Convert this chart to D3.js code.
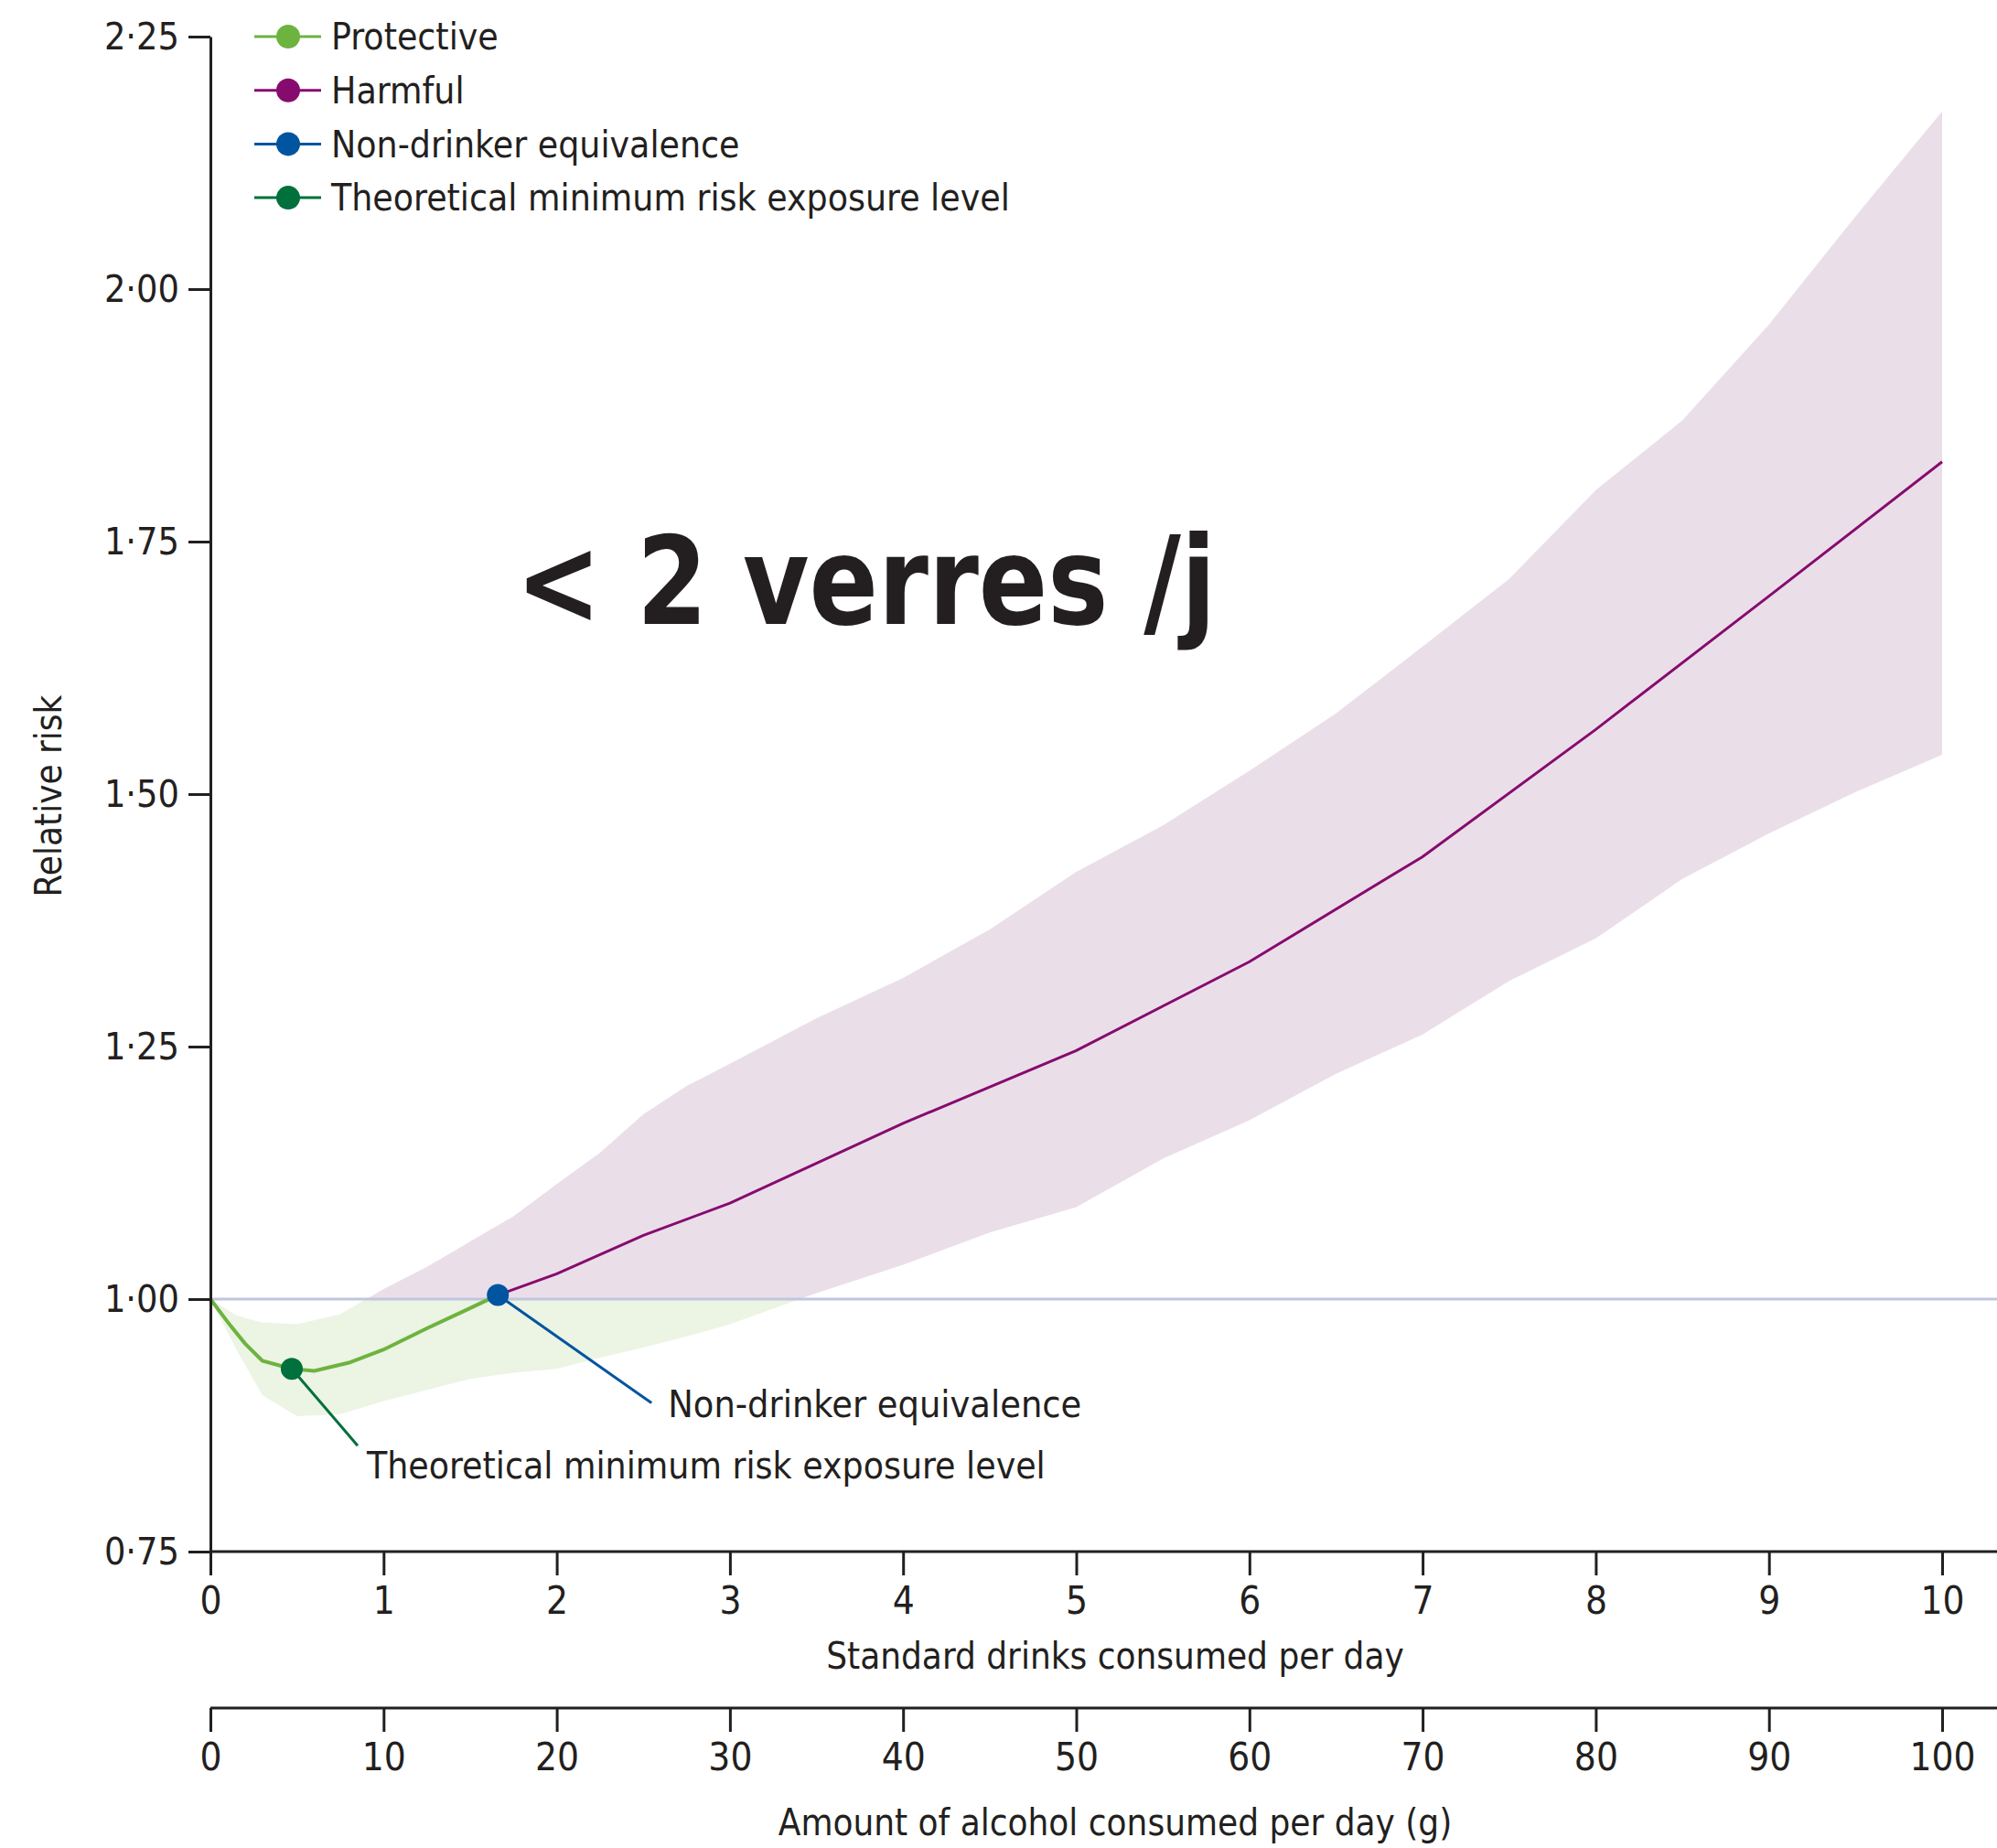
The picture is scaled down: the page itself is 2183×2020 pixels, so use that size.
<!DOCTYPE html>
<html lang="en">
<head>
    <meta charset="UTF-8">
    <title>Relative risk by alcohol consumption</title>
    <script src="https://d3js.org/d3.v7.min.js"></script>
    <style>
        body{
            margin: 0;
            background-color: #fff;
        }
        text{
            font-family: "Liberation Sans Narrow", "DejaVu Sans Condensed", "Roboto", sans-serif;
            fill: #231f20;
        }
    </style>
</head>
<body>
<script>
    // Data (standard drinks per day -> relative risk)
    const protectiveX = [0, 0.11, 0.2, 0.3, 0.47, 0.6, 0.8, 1.0, 1.25, 1.5, 1.66];
    const protectiveY = [1.0, 0.975, 0.956, 0.939, 0.931, 0.929, 0.937, 0.95, 0.971, 0.991, 1.004];

    const harmfulX = [1.66, 2, 2.5, 3, 4, 5, 6, 7, 8, 9, 10];
    const harmfulY = [1.004, 1.025, 1.063, 1.095, 1.174, 1.246, 1.334, 1.438, 1.564, 1.696, 1.829];

    const bandX = [0, 0.15, 0.25, 0.3, 0.5, 0.75, 1.0, 1.25, 1.5, 1.75, 2.0, 2.25, 2.5, 2.75, 3.0, 3.5, 4.0, 4.5, 5.0, 5.5, 6.0, 6.5, 7.0, 7.5, 8.0, 8.5, 9.0, 9.5, 10];
    const bandUpper = [1.0, 0.984, 0.979, 0.977, 0.975, 0.985, 1.01, 1.032, 1.057, 1.082, 1.114, 1.145, 1.183, 1.211, 1.233, 1.278, 1.318, 1.366, 1.423, 1.469, 1.523, 1.58, 1.646, 1.713, 1.801, 1.87, 1.965, 2.072, 2.176];
    const bandLower = [1.0, 0.95, 0.92, 0.905, 0.884, 0.886, 0.899, 0.91, 0.921, 0.927, 0.931, 0.942, 0.952, 0.963, 0.975, 1.006, 1.034, 1.066, 1.091, 1.139, 1.177, 1.223, 1.262, 1.315, 1.357, 1.416, 1.461, 1.502, 1.539];

    const tmrel = { x: 0.47, y: 0.931 };
    const nde = { x: 1.66, y: 1.004 };

    const yTicks = [0.75, 1.0, 1.25, 1.5, 1.75, 2.0, 2.25];
    const drinkTicks = [0, 1, 2, 3, 4, 5, 6, 7, 8, 9, 10];
    const gramTicks = [0, 10, 20, 30, 40, 50, 60, 70, 80, 90, 100];

    const legendLabels = ["Protective", "Harmful", "Non-drinker equivalence", "Theoretical minimum risk exposure level"];
    const legendColors = ["#6db33f", "#870b6e", "#0054a0", "#00703c"];

    const width = 2183;
    const height = 2020;

    const svg = d3.select("body")
        .append("svg")
        .attr("width", width)
        .attr("height", height);

    const x = d3.scaleLinear().domain([0, 10]).range([230, 2123]);
    const xg = d3.scaleLinear().domain([0, 100]).range([230, 2123]);
    const y = d3.scaleLinear().domain([0.75, 2.25]).range([1696, 40]);

    // clip regions above / below RR = 1
    const defs = svg.append("defs");
    defs.append("clipPath").attr("id", "above")
        .append("rect").attr("x", 0).attr("y", 0).attr("width", width).attr("height", y(1));
    defs.append("clipPath").attr("id", "below")
        .append("rect").attr("x", 0).attr("y", y(1)).attr("width", width).attr("height", height - y(1));

    const band = bandX.map((d, i) => ({ x: d, lo: bandLower[i], hi: bandUpper[i] }));
    const area = d3.area()
        .x(d => x(d.x))
        .y0(d => y(d.lo))
        .y1(d => y(d.hi));

    svg.append("path")
        .datum(band)
        .attr("d", area)
        .attr("fill", "#eadfe9")
        .attr("clip-path", "url(#above)");

    svg.append("path")
        .datum(band)
        .attr("d", area)
        .attr("fill", "#ecf4e4")
        .attr("clip-path", "url(#below)");

    // reference line at 1.00
    svg.append("line")
        .attr("x1", x(0)).attr("x2", width)
        .attr("y1", y(1)).attr("y2", y(1))
        .attr("stroke", "#bfc6de")
        .attr("stroke-width", 3);

    const line = d3.line()
        .x(d => x(d[0]))
        .y(d => y(d[1]));

    svg.append("path")
        .datum(protectiveX.map((d, i) => [d, protectiveY[i]]))
        .attr("d", line)
        .attr("fill", "none")
        .attr("stroke", legendColors[0])
        .attr("stroke-width", 4);

    svg.append("path")
        .datum(harmfulX.map((d, i) => [d, harmfulY[i]]))
        .attr("d", line)
        .attr("fill", "none")
        .attr("stroke", legendColors[1])
        .attr("stroke-width", 3);

    // annotation leaders
    svg.append("line")
        .attr("x1", x(tmrel.x)).attr("y1", y(tmrel.y))
        .attr("x2", x(tmrel.x) + 72).attr("y2", y(tmrel.y) + 84)
        .attr("stroke", legendColors[3]).attr("stroke-width", 3);

    svg.append("line")
        .attr("x1", x(nde.x)).attr("y1", y(nde.y))
        .attr("x2", x(nde.x) + 168).attr("y2", y(nde.y) + 118)
        .attr("stroke", legendColors[2]).attr("stroke-width", 3);

    svg.append("circle")
        .attr("cx", x(tmrel.x)).attr("cy", y(tmrel.y)).attr("r", 12)
        .attr("fill", legendColors[3]);
    svg.append("circle")
        .attr("cx", x(nde.x)).attr("cy", y(nde.y)).attr("r", 12)
        .attr("fill", legendColors[2]);

    svg.append("text")
        .attr("x", x(tmrel.x) + 82).attr("y", y(tmrel.y) + 106)
        .attr("dy", "0.35em")
        .style("font-size", "40.5px")
        .text("Theoretical minimum risk exposure level");

    svg.append("text")
        .attr("x", x(nde.x) + 186).attr("y", y(nde.y) + 119)
        .attr("dy", "0.35em")
        .style("font-size", "41px")
        .text("Non-drinker equivalence");

    // Y axis
    const yAxis = svg.append("g")
        .attr("transform", `translate(${x(0)},0)`)
        .call(d3.axisLeft(y)
            .tickValues(yTicks)
            .tickSize(24)
            .tickSizeOuter(0)
            .tickPadding(10)
            .tickFormat(d => d3.format(".2f")(d).replace(".", "\u00b7")));
    yAxis.selectAll("path, line").attr("stroke", "#231f20").attr("stroke-width", 3);
    yAxis.selectAll("text").style("font-size", "41px").attr("fill", "#231f20");

    // X axis - standard drinks
    const xAxis = svg.append("g")
        .attr("transform", `translate(0,${y(0.75)})`)
        .call(d3.axisBottom(x)
            .tickValues(drinkTicks)
            .tickSize(26)
            .tickSizeOuter(0)
            .tickPadding(12));
    xAxis.select(".domain").attr("d", `M${x(0)},0H${width}`);
    xAxis.selectAll("path, line").attr("stroke", "#231f20").attr("stroke-width", 3);
    xAxis.selectAll("text").style("font-size", "42px").attr("fill", "#231f20");

    // X axis - grams
    const gAxis = svg.append("g")
        .attr("transform", "translate(0,1867)")
        .call(d3.axisBottom(xg)
            .tickValues(gramTicks)
            .tickSize(26)
            .tickSizeOuter(0)
            .tickPadding(12));
    gAxis.select(".domain").attr("d", `M${x(0)},0H${width}`);
    gAxis.selectAll("path, line").attr("stroke", "#231f20").attr("stroke-width", 3);
    gAxis.selectAll("text").style("font-size", "42px").attr("fill", "#231f20");

    // axis titles
    svg.append("text")
        .attr("x", 1219).attr("y", 1810)
        .attr("dy", "0.35em")
        .attr("text-anchor", "middle")
        .style("font-size", "40px")
        .text("Standard drinks consumed per day");

    svg.append("text")
        .attr("x", 1219).attr("y", 1992)
        .attr("dy", "0.35em")
        .attr("text-anchor", "middle")
        .style("font-size", "40px")
        .text("Amount of alcohol consumed per day (g)");

    svg.append("text")
        .attr("transform", "translate(53,870) rotate(-90)")
        .attr("dy", "0.35em")
        .attr("text-anchor", "middle")
        .style("font-size", "40px")
        .text("Relative risk");

    // legend
    const legend = svg.append("g").attr("transform", "translate(278,40)");
    legendLabels.forEach((label, i) => {
        const row = legend.append("g").attr("transform", `translate(0,${i * 58.7})`);
        row.append("line")
            .attr("x1", 0).attr("x2", 73)
            .attr("stroke", legendColors[i]).attr("stroke-width", 3);
        row.append("circle")
            .attr("cx", 37).attr("r", 13)
            .attr("fill", legendColors[i]);
        row.append("text")
            .attr("x", 84)
            .attr("dy", "0.35em")
            .style("font-size", "40.5px")
            .text(label);
    });

    // handwritten note
    svg.append("text")
        .attr("x", 564).attr("y", 682)
        .attr("textLength", 765)
        .attr("lengthAdjust", "spacingAndGlyphs")
        .style("font-family", "'DejaVu Sans Condensed', 'DejaVu Sans', sans-serif")
        .style("font-weight", "bold")
        .style("font-size", "134px")
        .attr("fill", "#000")
        .text("< 2 verres /j");
</script>
</body>
</html>
